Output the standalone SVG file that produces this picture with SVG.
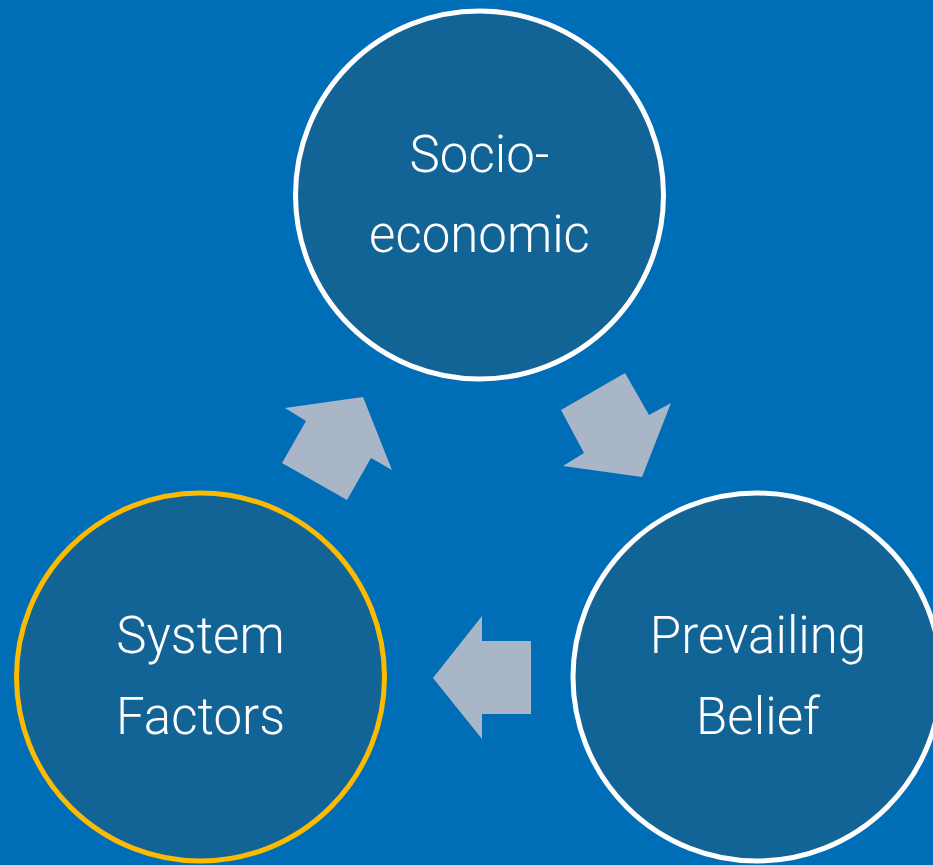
<svg xmlns="http://www.w3.org/2000/svg" width="933" height="865" viewBox="0 0 933 865">
<style>
.node{fill:#136496;stroke-width:5}
.lbl{fill:#ffffff;font-family:Roboto,"Liberation Sans",Arial,sans-serif;font-weight:300;font-size:51px;text-anchor:middle}
.arr{fill:#A8B6C7}
</style>
<rect width="933" height="865" fill="#006EB6"/>
<g id="connectors">
<polygon class="arr" points="285,408 363,397 392,470 371,458 347,500 282,463 306,421"/>
<polygon class="arr" points="625,373 649,415 671,403 642,477 563,466 584,453 561,410"/>
<polygon class="arr" points="433,678 482,616 482,641 531,641 531,714 482,714 482,739"/>
</g>
<g id="socioeconomic">
<circle class="node" cx="479.5" cy="195" r="184" stroke="#ffffff"/>
<text class="lbl" x="479.5" y="172">Socio-</text>
<text class="lbl" x="479.5" y="252">economic</text>
</g>
<g id="prevailing-belief">
<circle class="node" cx="757" cy="677" r="184" stroke="#ffffff"/>
<text class="lbl" x="758" y="653">Prevailing</text>
<text class="lbl" x="758" y="734">Belief</text>
</g>
<g id="system-factors">
<circle class="node" cx="200.5" cy="677" r="184" stroke="#FDBB00"/>
<text class="lbl" x="200.5" y="653">System</text>
<text class="lbl" x="200.5" y="734">Factors</text>
</g>
</svg>
